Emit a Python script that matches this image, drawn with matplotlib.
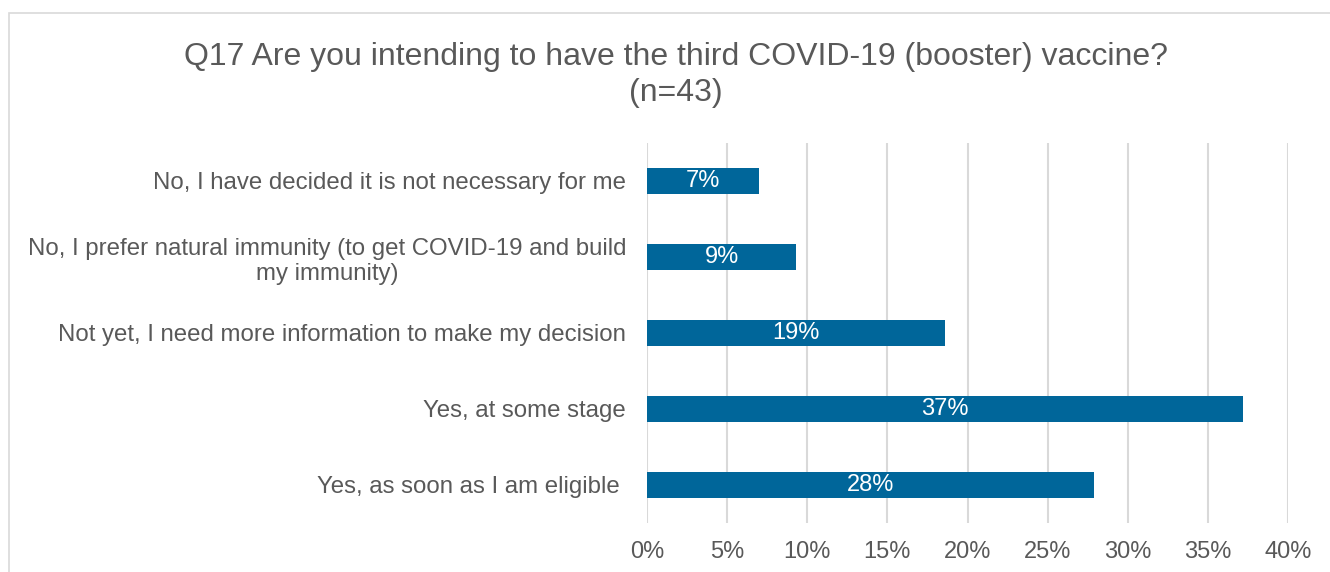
import matplotlib.pyplot as plt
from matplotlib.patches import Rectangle

# Survey responses (n=43)
categories = [
    "No, I have decided it is not necessary for me",
    "No, I prefer natural immunity (to get COVID-19 and build\nmy immunity)",
    "Not yet, I need more information to make my decision",
    "Yes, at some stage",
    "Yes, as soon as I am eligible ",
]
counts = [3, 4, 8, 16, 12]
n_total = 43
shares = [c / n_total * 100 for c in counts]
xticks = [0, 5, 10, 15, 20, 25, 30, 35, 40]

BAR_COLOR = "#00669a"
TEXT_COLOR = "#595959"
GRID_COLOR = "#d9d9d9"

plt.rcParams["font.family"] = ["Liberation Sans", "DejaVu Sans"]

W, H = 1330, 572
fig = plt.figure(figsize=(W / 100, H / 100), dpi=100)

# outer chart frame (only left and top edges fall inside the image)
fig.patches.append(Rectangle((9 / W, -0.1), 1.2, 1 - 13 / H + 0.1,
                             transform=fig.transFigure, fill=False,
                             edgecolor=GRID_COLOR, linewidth=1.2))

ax = fig.add_axes([647 / W, 1 - 523 / H, (1288 - 647) / W, (523 - 143) / H])

y = list(range(len(categories)))
bars = ax.barh(y, shares, height=0.34, color=BAR_COLOR, zorder=3)

for yi, v in zip(y, shares):
    ax.text(v / 2, yi, f"{v:.0f}%", ha="center", va="center",
            color="white", fontsize=17, zorder=4)

ax.set_xlim(0, 40)
ax.set_ylim(len(categories) - 0.5, -0.5)
ax.set_xticks(xticks)
ax.set_xticklabels([f"{t}%" for t in xticks])
ax.set_yticks(y)
ax.set_yticklabels(categories, multialignment="center")

ax.tick_params(axis="x", length=0, pad=13, labelsize=17, labelcolor=TEXT_COLOR)
ax.tick_params(axis="y", length=0, pad=15, labelsize=17.3, labelcolor=TEXT_COLOR)

ax.grid(axis="x", color=GRID_COLOR, linewidth=1.5, zorder=0)
for s in ax.spines.values():
    s.set_visible(False)

fig.text(676 / W, 1 - 57 / H, "Q17 Are you intending to have the third COVID-19 (booster) vaccine?",
         ha="center", va="center", fontsize=23, color=TEXT_COLOR)
fig.text(676 / W, 1 - 93 / H, "(n=43)", ha="center", va="center",
         fontsize=23, color=TEXT_COLOR)

fig.savefig("out.png", dpi=100)
